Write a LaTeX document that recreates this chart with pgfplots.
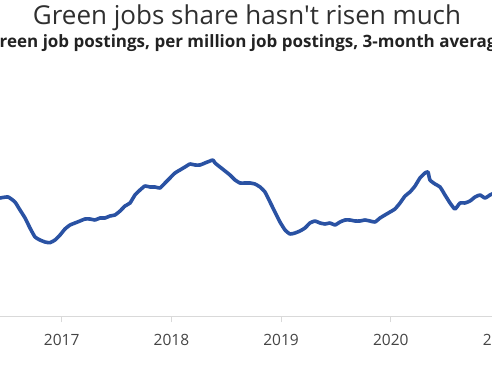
\documentclass[border=0pt]{standalone}
\usepackage{pgfplots}
\pgfplotsset{compat=1.18}
\usepackage{fontspec}
\setmainfont{Open Sans}
\newfontfamily\titlefont{Open Sans}
\definecolor{lineblue}{HTML}{2A52A3}
\definecolor{titlegray}{HTML}{2F2F2F}
\definecolor{subgray}{HTML}{222222}
\definecolor{tickgray}{HTML}{444444}
\definecolor{axisgray}{HTML}{D9D9D9}
\pgfplotstableread{
date value
2016.346 116
2016.438 118
2016.511 119
2016.574 114
2016.620 106
2016.666 98
2016.711 88
2016.757 79
2016.802 76
2016.848 74
2016.893 73.3
2016.939 76
2016.985 81
2017.030 87
2017.076 91
2017.121 93
2017.167 95
2017.212 97
2017.258 97
2017.304 96
2017.349 98
2017.395 98
2017.440 100
2017.486 101
2017.532 105
2017.577 110
2017.623 113
2017.668 121
2017.714 126
2017.759 130
2017.805 129
2017.851 129
2017.896 128
2017.942 133
2017.987 138
2018.033 143
2018.078 146
2018.124 149
2018.170 152
2018.215 151
2018.261 151
2018.306 153
2018.352 155
2018.379 156
2018.398 153
2018.443 149
2018.489 145
2018.534 141
2018.580 136
2018.625 133
2018.671 133
2018.717 133
2018.762 132
2018.808 129
2018.853 124
2018.899 114
2018.944 104
2018.990 94
2019.036 86
2019.081 82
2019.127 83
2019.172 85
2019.218 88
2019.263 93
2019.309 95
2019.355 93
2019.400 92
2019.446 93
2019.491 91
2019.537 94
2019.583 96
2019.628 96
2019.674 95
2019.719 95
2019.765 96
2019.810 95
2019.856 94
2019.902 98
2019.947 101
2019.993 104
2020.038 107
2020.084 113
2020.130 120
2020.175 124
2020.221 130
2020.266 138
2020.312 143
2020.339 144
2020.357 136
2020.403 132
2020.449 129
2020.494 121
2020.540 113
2020.585 107
2020.631 113
2020.676 113
2020.722 115
2020.768 119
2020.813 121
2020.859 118
2020.904 121
2020.923 122
2020.996 123
}\greenjobs
\begin{document}
\begin{tikzpicture}
\useasboundingbox (0,0) rectangle (492pt,388pt);
\clip (0,0) rectangle (492pt,388pt);
\begin{axis}[
  x=109.7pt, y=1pt,
  at={(-15.1pt,72pt)}, anchor=south west,
  xmin=2016.3, xmax=2021.1,
  ymin=0, ymax=250,
  axis x line*=bottom,
  axis y line=none,
  axis line style={axisgray, line width=1pt},
  xtick={2017,2018,2019,2020,2021},
  xticklabels={2017,2018,2019,2020,2021},
  tick align=outside,
  major tick length=6pt,
  x tick style={axisgray, line width=0.8pt},
  xticklabel style={font=\fontsize{15.5}{17}\selectfont, text=tickgray, yshift=-9pt},
  ytick=\empty,
  clip=false,
]
\addplot[lineblue, line width=3.6pt, line join=round, line cap=round, smooth, tension=0.3] table[x=date, y=value] {\greenjobs};
\end{axis}
\node[anchor=base, text=titlegray, font=\titlefont\fontsize{26}{30}\selectfont] at (247pt,363.5pt) {Green jobs share hasn't risen much};
\node[anchor=base, text=subgray, font=\bfseries\fontsize{17}{20}\selectfont] at (247pt,340.5pt) {Green job postings, per million job postings, 3-month average};
\end{tikzpicture}
\end{document}
